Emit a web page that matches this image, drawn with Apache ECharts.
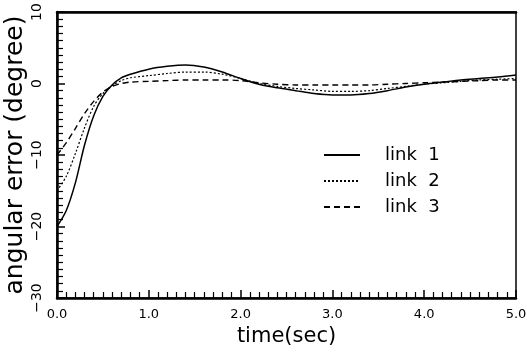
<!DOCTYPE html>
<html>
<head>
<meta charset="utf-8">
<script src="https://cdn.jsdelivr.net/npm/echarts@6/dist/echarts.min.js"></script>
<style>
  html, body { margin: 0; padding: 0; background: #fff; }
  #main { width: 527px; height: 353px; }
</style>
</head>
<body>
<div id="main"></div>
<script>
// time (sec)
var timeSec = [0, 0.1, 0.2, 0.3, 0.4, 0.5, 0.6, 0.7, 0.8, 1.0, 1.2, 1.4, 1.6, 1.8, 2.0,
  2.2, 2.4, 2.6, 2.8, 3.0, 3.2, 3.4, 3.6, 3.8, 4.0, 4.2, 4.4, 4.6, 4.8, 5.0];

// angular error (degree)
var link1 = [-20, -17.8, -13.9, -8.6, -4.5, -1.8, -0.2, 0.8, 1.3, 2.0, 2.4, 2.6, 2.3, 1.6, 0.7,
  -0.1, -0.6, -1.0, -1.4, -1.6, -1.6, -1.4, -1.0, -0.5, -0.1, 0.2, 0.5, 0.7, 0.9, 1.2];
var link2 = [-15, -13, -9.8, -6.2, -3.2, -1.4, -0.3, 0.4, 0.8, 1.1, 1.4, 1.6, 1.6, 1.3, 0.7,
  0.0, -0.4, -0.7, -0.9, -1.1, -1.1, -1.0, -0.7, -0.4, -0.1, 0.1, 0.3, 0.5, 0.6, 0.7];
var link3 = [-10, -8.3, -6.3, -4.2, -2.5, -1.2, -0.4, 0.0, 0.2, 0.3, 0.4, 0.5, 0.5, 0.5, 0.4,
  0.1, -0.1, -0.2, -0.2, -0.2, -0.2, -0.2, -0.1, 0.0, 0.1, 0.2, 0.3, 0.4, 0.5, 0.5];

var seriesNames = ['link 1', 'link 2', 'link 3'];
var xTicks = [0, 1, 2, 3, 4, 5];
var yTicks = [-30, -20, -10, 0, 10];

function pairs(ys) {
  var out = [];
  for (var i = 0; i < timeSec.length; i++) {
    out.push([timeSec[i], ys[i]]);
  }
  return out;
}

var chart = echarts.init(document.getElementById('main'));
var font = 'DejaVu Sans';

var option = {
  backgroundColor: '#fff',
  animation: false,
  grid: {
    left: 57, right: 11, top: 12, bottom: 55,
    outerBoundsMode: 'none',
    containLabel: false,
    show: true, borderColor: '#000', borderWidth: 1.5
  },
  legend: {
    data: seriesNames,
    orient: 'vertical',
    left: 318, top: 141,
    itemWidth: 36, itemHeight: 14, itemGap: 8,
    itemStyle: { opacity: 0 },
    formatter: function (name) { return name.replace(' ', '  '); },
    textStyle: { fontFamily: font, fontSize: 18, color: '#000', padding: [0, 0, 0, 20] }
  },
  xAxis: [{
    type: 'value',
    min: 0, max: 5, interval: 1,
    name: 'time(sec)',
    nameLocation: 'middle',
    nameGap: 26,
    nameTextStyle: { fontFamily: font, fontSize: 21, color: '#000' },
    axisLine: { onZero: false, lineStyle: { color: '#000', width: 2.5 } },
    axisTick: { inside: true, length: 8, lineStyle: { color: '#000', width: 1.5 } },
    minorTick: { show: true, splitNumber: 10, length: 6, lineStyle: { color: '#000', width: 1.2 } },
    axisLabel: {
      margin: 10, fontFamily: font, fontSize: 13, color: '#000',
      formatter: function (v) { return xTicks.indexOf(v) >= 0 ? v.toFixed(1) : ''; }
    },
    splitLine: { show: false }
  }, {
    type: 'value',
    position: 'top',
    min: 0, max: 5,
    axisLine: { onZero: false, lineStyle: { color: '#000', width: 2.5 } },
    axisTick: { show: false },
    axisLabel: { show: false },
    splitLine: { show: false }
  }],
  yAxis: {
    type: 'value',
    min: -30, max: 10, interval: 10,
    name: 'angular error (degree)',
    nameLocation: 'middle',
    nameRotate: 90,
    nameGap: 29,
    nameMoveOverlap: false,
    nameTextStyle: { fontFamily: font, fontSize: 25, color: '#000' },
    axisLine: { onZero: false, lineStyle: { color: '#000', width: 2.5 } },
    axisTick: { inside: true, length: 8, lineStyle: { color: '#000', width: 1.5 } },
    minorTick: { show: true, splitNumber: 10, length: 6, lineStyle: { color: '#000', width: 1.2 } },
    axisLabel: {
      rotate: 90, margin: 13, fontFamily: font, fontSize: 14, color: '#000',
      formatter: function (v) {
        if (yTicks.indexOf(v) < 0) return '';
        return v < 0 ? '\u2212' + (-v) : String(v);
      }
    },
    splitLine: { show: false }
  },
  series: [{
    name: seriesNames[0],
    type: 'line',
    data: pairs(link1),
    smooth: 0.3,
    symbol: 'none',
    lineStyle: { color: '#000', width: 1.5, type: 'solid' },
    itemStyle: { color: '#000' }
  }, {
    name: seriesNames[1],
    type: 'line',
    data: pairs(link2),
    smooth: 0.3,
    symbol: 'none',
    lineStyle: { color: '#000', width: 1.2, type: [2, 2] },
    itemStyle: { color: '#000' }
  }, {
    name: seriesNames[2],
    type: 'line',
    data: pairs(link3),
    smooth: 0.3,
    symbol: 'none',
    lineStyle: { color: '#000', width: 1.4, type: [6, 4] },
    itemStyle: { color: '#000' }
  }]
};

chart.setOption(option);
</script>
</body>
</html>
